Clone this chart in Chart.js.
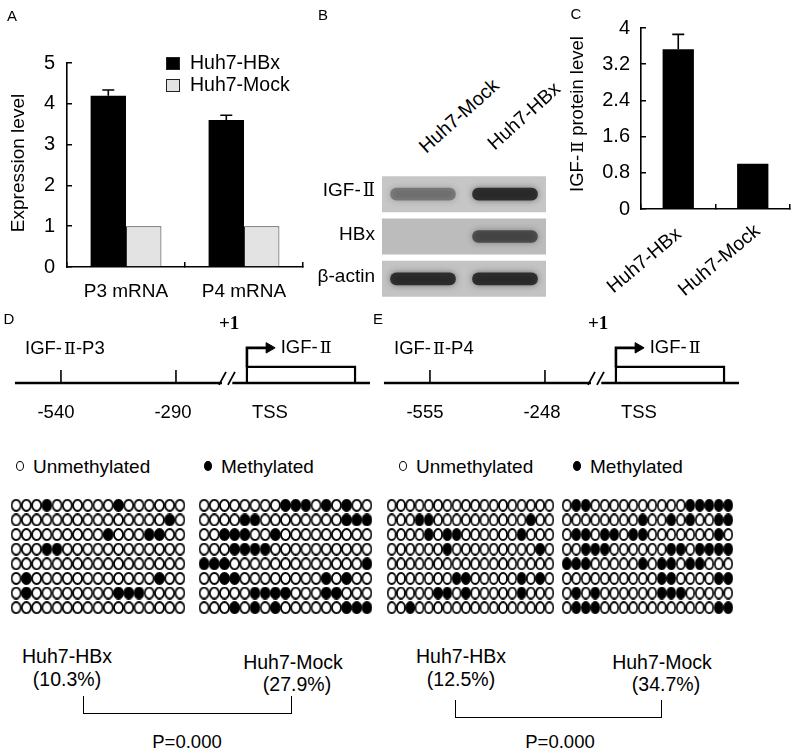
<!DOCTYPE html>
<html>
<head>
<meta charset="utf-8">
<script src="https://cdn.jsdelivr.net/npm/chart.js@4.4.0/dist/chart.umd.min.js"></script>
<style>
  body { margin: 0; background: #fff; }
  #page { position: relative; width: 800px; height: 755px; overflow: hidden;
          font-family: "Liberation Sans", Arial, sans-serif; color: #000; }
  canvas { position: absolute; }
  .t { position: absolute; white-space: nowrap; font-size: 18px; line-height: 1; }
  .rn { font-family: "DejaVu Serif", "Liberation Serif", serif; font-size: 0.95em; padding-left: 2px; }
</style>
</head>
<body>
<div id="page">
  <canvas id="chartA" width="320" height="310" style="left:0;top:0"></canvas>
  <canvas id="chartB" width="240" height="140" style="left:310px;top:165px"></canvas>
  <canvas id="chartC" width="240" height="300" style="left:560px;top:0"></canvas>
  <canvas id="diagD" width="380" height="130" style="left:0;top:300px"></canvas>
  <canvas id="diagE" width="380" height="130" style="left:369px;top:300px"></canvas>
  <canvas id="gridD1" width="174" height="117" style="left:11px;top:498px"></canvas>
  <canvas id="gridD2" width="173" height="117" style="left:199px;top:498px"></canvas>
  <canvas id="gridE1" width="167" height="117" style="left:387px;top:498px"></canvas>
  <canvas id="gridE2" width="171" height="117" style="left:562px;top:498px"></canvas>
</div>
<script>
// ---- data ----
const groupsA = ['P3 mRNA', 'P4 mRNA'];
const hbxA = [4.2, 3.6];
const hbxErrA = [0.14, 0.12];
const mockA = [1, 1];

const groupsC = ['Huh7-HBx', 'Huh7-Mock'];
const proteinC = [3.53, 1.0];
const proteinErrC = [0.33, 0];

const blotRows = ['IGF-Ⅱ', 'HBx', 'β-actin'];
const blotLanes = ['Huh7-Mock', 'Huh7-HBx'];
const bandMock = [0.38, 0, 0.85];   // band darkness per row
const bandHBx = [0.85, 0.62, 0.85];

const sitesD = [-540, -290];
const sitesE = [-555, -248];

// methylated CpG positions (1-based) for each clone (row)
const methD_HBx = [[4, 11], [16], [10, 14, 15], [4, 5], [], [2, 15], [2, 11, 12, 13], []];
const methD_Mock = [[9, 10, 11, 13, 15], [5, 6, 15, 16, 17], [3, 4, 5, 8], [4, 5, 6, 7],
                    [1, 2, 3, 17], [3, 4, 13, 15], [6, 7, 8, 9, 13, 14], [4, 6, 8, 15, 16, 17]];
const methE_HBx = [[], [4, 5, 16], [5, 7, 8, 15], [7, 17], [], [8, 9, 15, 17], [6, 7, 9, 15], [3]];
const methE_Mock = [[2, 3, 14, 15, 16, 17, 18], [9, 12, 14, 17, 18], [2, 3, 5, 6, 8, 9, 17],
                    [3, 4, 5, 12, 13, 15, 16, 17, 18], [1, 2, 3, 9, 11, 12, 14, 15],
                    [11, 12, 17, 18], [2, 4, 11, 12, 13], [2, 3, 4, 17, 18]];
const cpgD = 17;
const cpgE = 18;
const pctD = ['10.3%', '27.9%'];
const pctE = ['12.5%', '34.7%'];
const pValue = 'P=0.000';

Chart.defaults.font.family = '"Liberation Sans", Arial, sans-serif';
Chart.defaults.color = '#000';
Chart.defaults.animation = false;
Chart.defaults.responsive = false;
Chart.defaults.plugins.legend.display = false;
Chart.defaults.plugins.tooltip.enabled = false;

const page = document.getElementById('page');
function label(text, x, y, o = {}) {
  const el = document.createElement('div');
  el.className = 't';
  // roman numeral in a serif face, like the figure
  text.split('Ⅱ').forEach((part, i) => {
    if (i) { const s = document.createElement('span'); s.className = 'rn'; s.textContent = 'Ⅱ'; el.appendChild(s); }
    el.appendChild(document.createTextNode(part));
  });
  el.style.left = x + 'px';
  el.style.top = y + 'px';
  const ax = o.align === 'left' ? '0' : o.align === 'right' ? '-100%' : '-50%';
  el.style.transform = `translate(${ax},-50%)` + (o.rotate ? ` rotate(${o.rotate}deg)` : '');
  if (o.size) el.style.fontSize = o.size + 'px';
  if (o.font) el.style.fontFamily = o.font;
  if (o.bold) el.style.fontWeight = 'bold';
  page.appendChild(el);
  return el;
}
function box(x, y, w, h, css) {
  const el = document.createElement('div');
  el.style.cssText = `position:absolute;left:${x}px;top:${y}px;width:${w}px;height:${h}px;box-sizing:border-box;` + css;
  page.appendChild(el);
}

const errorBars = {
  id: 'errorBars',
  afterDatasetsDraw(chart) {
    const ctx = chart.ctx, y = chart.scales.y;
    chart.data.datasets.forEach((ds, i) => {
      if (!ds.errors) return;
      chart.getDatasetMeta(i).data.forEach((bar, j) => {
        const e = ds.errors[j];
        if (!e) return;
        const top = y.getPixelForValue(ds.data[j] + e);
        ctx.save();
        ctx.strokeStyle = '#000';
        ctx.lineWidth = 1.6;
        ctx.beginPath();
        ctx.moveTo(bar.x, bar.y);
        ctx.lineTo(bar.x, top);
        ctx.moveTo(bar.x - 6, top);
        ctx.lineTo(bar.x + 6, top);
        ctx.stroke();
        ctx.restore();
      });
    });
  }
};

const axisStyle = {
  grid: { drawOnChartArea: false, tickLength: -5, color: '#000', lineWidth: 1.5 },
  border: { color: '#000', width: 1.6 }
};

// ---- A: mRNA expression ----
const chartA = new Chart(document.getElementById('chartA'), {
  type: 'bar',
  data: {
    labels: groupsA,
    datasets: [
      { label: 'Huh7-HBx', data: hbxA, errors: hbxErrA, backgroundColor: '#000',
        categoryPercentage: 0.6, barPercentage: 1 },
      { label: 'Huh7-Mock', data: mockA, backgroundColor: '#e3e3e3', borderColor: '#333', borderWidth: 1,
        categoryPercentage: 0.6, barPercentage: 1 }
    ]
  },
  options: {
    layout: { padding: { top: 63, right: 17, left: 0, bottom: 0 } },
    scales: {
      x: { ...axisStyle, ticks: { font: { size: 19 }, padding: 18 }, afterFit(s) { s.height = 43; } },
      y: { ...axisStyle, min: 0, max: 5, ticks: { stepSize: 1, font: { size: 20 }, padding: 17 },
           afterFit(s) { s.width = 67; } }
    }
  },
  plugins: [errorBars]
});
label('A', 12, 15, { size: 15 });
label('Expression level', 17, 163, { rotate: -90, size: 19 });
chartA.data.datasets.forEach((ds, i) => {
  box(166, 57 + i * 22, 14, 13, `background:${ds.backgroundColor};border:1px solid #222;`);
  label(ds.label, 190, 63 + i * 22, { align: 'left', size: 19.5 });
});

// ---- B: western blot ----
// bands are listed first so they are painted over the membrane strips
const blotGlow = {
  id: 'blotGlow',
  beforeDatasetDraw(chart, args) {
    if (chart.data.datasets[args.index].band) {
      const ctx = chart.ctx;
      ctx.save();
      ctx.shadowColor = 'rgba(30,30,30,0.6)';
      ctx.shadowBlur = 6;
    }
  },
  afterDatasetDraw(chart, args) {
    if (chart.data.datasets[args.index].band) chart.ctx.restore();
  }
};
const bandColor = k => `rgba(28,28,28,${k})`;
const chartB = new Chart(document.getElementById('chartB'), {
  type: 'bar',
  data: {
    labels: blotRows,
    datasets: [
      ...blotLanes.map((lane, li) => ({
        label: lane, band: true,
        data: blotRows.map(() => [li + 0.1, li + 0.9]),
        backgroundColor: (li === 0 ? bandMock : bandHBx).map(bandColor),
        borderRadius: 6, borderSkipped: false,
        grouped: false, categoryPercentage: 1, barPercentage: 0.3
      })),
      { label: 'membrane', data: blotRows.map(() => [0, 2]),
        backgroundColor: ['#c6c6c6', '#bcbcbc', '#c3c3c3'],
        grouped: false, categoryPercentage: 1, barPercentage: 0.85 }
    ]
  },
  options: {
    indexAxis: 'y',
    layout: { padding: { top: 8, right: 4, bottom: 5, left: 72 }, autoPadding: false },
    scales: {
      x: { display: false, min: 0, max: 2 },
      y: { display: false }
    }
  },
  plugins: [blotGlow]
});
label('B', 323, 14, { size: 15 });
blotRows.forEach((r, i) => {
  label(r, 375, 165 + chartB.scales.y.getPixelForValue(i) - 4, { align: 'right', size: 19 });
});
blotLanes.forEach((lane, li) => {
  const cx = 310 + chartB.scales.x.getPixelForValue(li + 0.5) + [36, 19][li];
  label(lane, cx, 116, { rotate: -42, size: 19.5 });
});

// ---- C: protein level ----
const chartC = new Chart(document.getElementById('chartC'), {
  type: 'bar',
  data: {
    labels: groupsC,
    datasets: [
      { label: 'IGF-Ⅱ protein level', data: proteinC, errors: proteinErrC, backgroundColor: '#000',
        categoryPercentage: 0.42, barPercentage: 1 }
    ]
  },
  options: {
    layout: { padding: { top: 15, right: 10, left: 0, bottom: 0 } },
    scales: {
      x: { ...axisStyle, ticks: { display: false }, afterFit(s) { s.height = 91; } },
      y: { ...axisStyle, min: 0, max: 4,
           ticks: { stepSize: 0.8, font: { size: 20 }, padding: 16, callback: v => String(+v.toFixed(1)) },
           afterFit(s) { s.width = 81; } }
    }
  },
  plugins: [errorBars]
});
label('C', 576, 13, { size: 15 });
label(chartC.data.datasets[0].label, 577, 114, { rotate: -90, size: 18.5 });
groupsC.forEach((g, i) => {
  label(g, 560 + chartC.scales.x.getPixelForValue(i) - 34, 260, { rotate: -40, size: 19.5 });
});

// ---- D / E: promoter diagrams ----
function promoter(id, left, sites, name, tag) {
  const [s0, s1] = sites, d = s1 - s0;
  const at = k => s1 + k * d;            // schematic position after the second site
  const tss = at(0.617), geneEnd = at(1.557);
  const seg = (pts, w = 2.2) => ({ data: pts.map(([x, y]) => ({ x, y })), showLine: true,
    borderColor: '#000', borderWidth: w, pointRadius: 0 });
  const chart = new Chart(document.getElementById(id), {
    type: 'scatter',
    data: {
      datasets: [
        seg([[s0 - 0.4 * d, 0], [at(0.4), 0]], 2.6),
        seg([[at(0.49), 0], [at(1.687), 0]], 2.6),
        ...sites.map(s => seg([[s, 0], [s, 1]], 1.6)),
        seg([[at(0.374), -0.15], [at(0.435), 0.85]], 1.8),
        seg([[at(0.452), -0.15], [at(0.513), 0.85]], 1.8),
        seg([[tss, 0], [tss, 1.23], [geneEnd, 1.23], [geneEnd, 0]], 2.2),
        seg([[tss, 1.23], [tss, 2.7], [at(0.8), 2.7]], 2.6),
        { data: [{ x: at(0.81), y: 2.7 }], pointStyle: 'triangle', rotation: 90, pointRadius: 6,
          backgroundColor: '#000', borderColor: '#000', borderWidth: 1 }
      ]
    },
    options: {
      layout: { padding: 0, autoPadding: false },
      scales: {
        x: { display: false, min: s0 - 0.53 * d, max: s0 + 2.774 * d },
        y: { display: false, min: -3.62, max: 6.38 }
      }
    }
  });
  const px = v => left + chart.scales.x.getPixelForValue(v);
  label(tag, left + 9, 318, { size: 15 });
  label(name, left + 25, 348, { align: 'left', size: 18.5 });
  label('+1', px(tss) - 28, 322, { align: 'left', size: 19, bold: true, font: '"Liberation Serif", serif' });
  label('IGF-Ⅱ', px(at(0.91)), 347, { align: 'left', size: 18.5 });
  sites.forEach((s, i) => label(String(s), px(s) - 5 + i * 2, 412, { size: 18.5 }));
  label('TSS', px(tss) + 23, 412, { size: 18.5 });
}
promoter('diagD', 0, sitesD, 'IGF-Ⅱ-P3', 'D');
promoter('diagE', 369, sitesE, 'IGF-Ⅱ-P4', 'E');

// ---- methylation grids ----
function ellipseImg(w, h, filled) {
  const c = document.createElement('canvas');
  c.width = w; c.height = h;
  const g = c.getContext('2d');
  g.beginPath();
  g.ellipse(w / 2, h / 2, w / 2 - 1, h / 2 - 1, 0, 0, Math.PI * 2);
  g.fillStyle = filled ? '#000' : '#fff';
  g.fill();
  g.lineWidth = 1.8;
  g.strokeStyle = '#000';
  g.stroke();
  return c;
}
function methGrid(id, rows, nCpG, w) {
  const open = [], meth = [];
  rows.forEach((m, r) => {
    for (let c = 1; c <= nCpG; c++) (m.includes(c) ? meth : open).push({ x: c, y: r + 1 });
  });
  new Chart(document.getElementById(id), {
    type: 'scatter',
    data: {
      datasets: [
        { label: 'Unmethylated', data: open, pointStyle: ellipseImg(w, 13, false), pointRadius: 5, clip: false },
        { label: 'Methylated', data: meth, pointStyle: ellipseImg(w, 13, true), pointRadius: 5, clip: false }
      ]
    },
    options: {
      layout: { padding: 0, autoPadding: false },
      scales: {
        x: { display: false, min: 0.5, max: nCpG + 0.5 },
        y: { display: false, min: 0.5, max: rows.length + 0.5, reverse: true }
      }
    }
  });
}
methGrid('gridD1', methD_HBx, cpgD, 11);
methGrid('gridD2', methD_Mock, cpgD, 11);
methGrid('gridE1', methE_HBx, cpgE, 10);
methGrid('gridE2', methE_Mock, cpgE, 10);

// legend rows
[[20, 'Unmethylated', false], [208, 'Methylated', true], [403, 'Unmethylated', false], [577, 'Methylated', true]]
  .forEach(([x, t, f]) => {
    box(x - 4, 461, 8, 10, `border:1.5px solid #000;border-radius:50%;background:${f ? '#000' : '#fff'};`);
    label(t, x + 13, 466, { align: 'left', size: 19 });
  });

// group labels, percentages and brackets
[[pctD, 67, 293, 83, 292, 696, 187], [pctE, 461, 662, 455, 662, 700, 560]].forEach(([pct, c1, c2, b1, b2, bt, pc]) => {
  label('Huh7-HBx', c1, 657, { size: 19.5 });
  label('(' + pct[0] + ')', c1, 680, { size: 19.5 });
  label('Huh7-Mock', c2, 663, { size: 19.5 });
  label('(' + pct[1] + ')', c2 + 4, 685, { size: 19.5 });
  box(b1, bt, b2 - b1, 18, 'border:1.6px solid #000;border-top:none;');
  label(pValue, pc, 742, { size: 18.5 });
});
</script>
</body>
</html>
